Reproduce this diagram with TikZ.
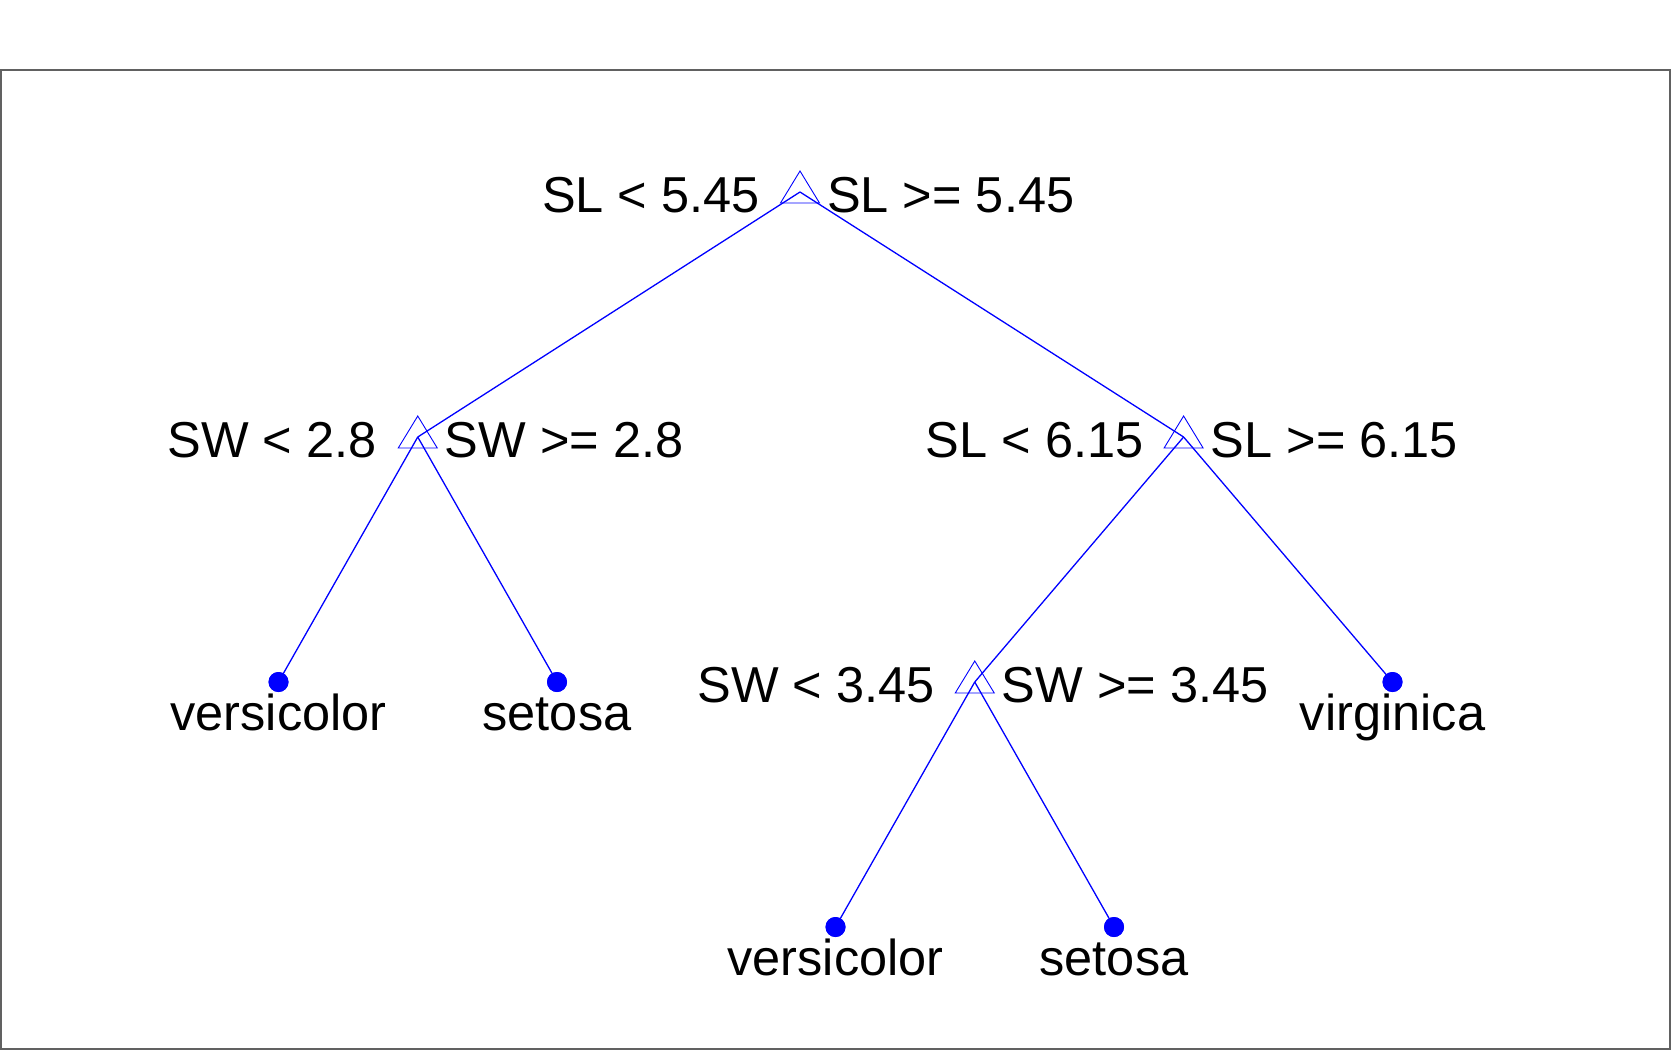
\documentclass[tikz,border=0pt]{standalone}
\usepackage{fontspec}
\setmainfont{Liberation Sans}
\begin{document}
\begin{tikzpicture}[x=1pt,y=-1pt,
  edge/.style={draw=blue,line width=1.3pt},
  tri/.style={draw=blue,line width=0.9pt},
  leaf/.style={circle,fill=blue,inner sep=0pt,minimum size=20pt},
  lbl/.style={inner sep=0pt,font=\fontsize{50.5}{60}\selectfont},
  frame/.style={draw=black!62,line width=1.4pt}]
\useasboundingbox (0,0) rectangle (1671,1050);
\fill[white] (0,0) rectangle (1671,1050);
\draw[frame] (1,70) rectangle (1670,1049);
% internal nodes
\coordinate (root) at (800,192);
\coordinate (A) at (417.75,437);
\coordinate (B) at (1183.6,437);
\coordinate (C) at (974.75,682);
% leaves
\node[leaf] (l1) at (278.5,682) {};
\node[leaf] (l2) at (557,682) {};
\node[leaf] (l5) at (1392.5,682) {};
\node[leaf] (l3) at (835.5,927) {};
\node[leaf] (l4) at (1114,927) {};
% edges
\draw[edge] (root) -- (A);
\draw[edge] (root) -- (B);
\draw[edge] (A) -- (l1.center);
\draw[edge] (A) -- (l2.center);
\draw[edge] (B) -- (C);
\draw[edge] (B) -- (l5.center);
\draw[edge] (C) -- (l3.center);
\draw[edge] (C) -- (l4.center);
% redraw leaves on top
\foreach \n in {l1,l2,l3,l4,l5} \fill[blue] (\n) circle (10);
% triangles
\foreach \n in {root,A,B,C}
  \draw[tri] ([shift={(-19.5,11)}]\n) -- ([shift={(0,-21)}]\n) -- ([shift={(19.5,11)}]\n) -- cycle;
% labels
\node[lbl,anchor=base east] (rootL) at ([shift={(-40,20)}]root) {SL < 5.45};
\node[lbl,anchor=base west] (rootR) at ([shift={(27,20)}]root) {SL >= 5.45};
\node[lbl,anchor=base east] (AL) at ([shift={(-41,20)}]A) {SW < 2.8};
\node[lbl,anchor=base west] (AR) at ([shift={(27,20)}]A) {SW >= 2.8};
\node[lbl,anchor=base east] (BL) at ([shift={(-40,20)}]B) {SL < 6.15};
\node[lbl,anchor=base west] (BR) at ([shift={(27,20)}]B) {SL >= 6.15};
\node[lbl,anchor=base east] (CL) at ([shift={(-40,20)}]C) {SW < 3.45};
\node[lbl,anchor=base west] (CR) at ([shift={(27,20)}]C) {SW >= 3.45};
\node[lbl,anchor=base] (t1) at ([shift={(0,48)}]l1.center) {versicolor};
\node[lbl,anchor=base] (t2) at ([shift={(0,48)}]l2.center) {setosa};
\node[lbl,anchor=base] (t5) at ([shift={(0,48)}]l5.center) {virginica};
\node[lbl,anchor=base] (t3) at ([shift={(0,48)}]l3.center) {versicolor};
\node[lbl,anchor=base] (t4) at ([shift={(0,48)}]l4.center) {setosa};
\end{tikzpicture}
\end{document}
